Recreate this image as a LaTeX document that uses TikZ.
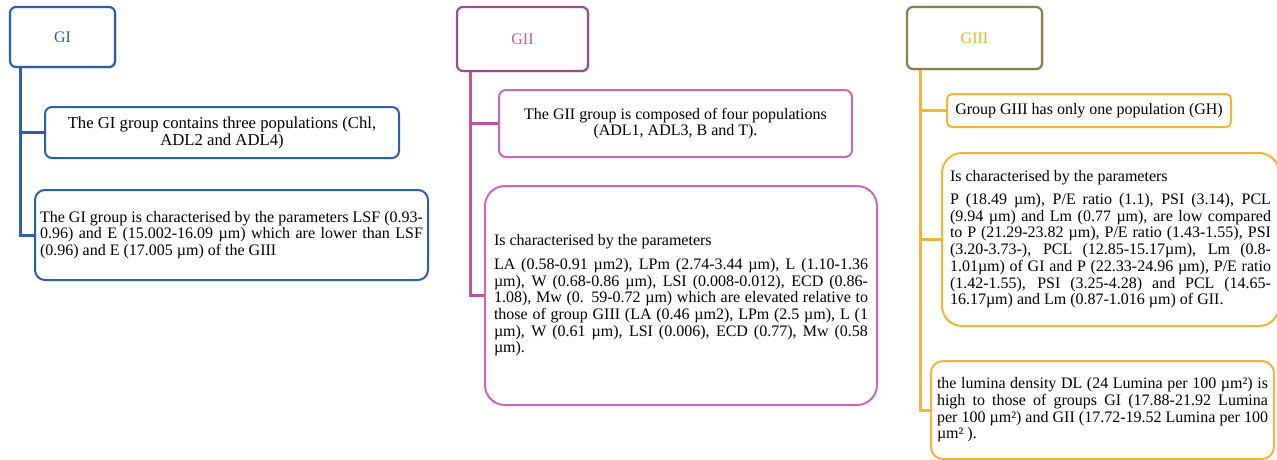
\documentclass[tikz,border=0pt]{standalone}
\usepackage{fontspec}
\setmainfont{Liberation Serif}
\usetikzlibrary{positioning,shadows}
\definecolor{giblue}{HTML}{2E5EAA}
\definecolor{giiline}{HTML}{BC52A8}
\definecolor{giibox}{HTML}{D065B6}
\definecolor{giihead}{HTML}{9A4C94}
\definecolor{giitext}{HTML}{C45A9E}
\definecolor{giiiline}{HTML}{F7B336}
\definecolor{giiihead}{HTML}{8E7B4E}
\definecolor{giiitext}{HTML}{F2B230}

\begin{document}
\begin{tikzpicture}[x=1pt,y=-1pt,
                      font=\fontsize{16}{16.7}\selectfont,
                      hdr/.style={draw, line width=2.2pt, rounded corners=6pt, fill=white,
                        drop shadow={shadow xshift=1.5pt, shadow yshift=-1.5pt, opacity=.3}},
                      box/.style={draw, line width=2pt, inner sep=0pt},
                      conn/.style={line width=3pt}]
                      \useasboundingbox (0,0) rectangle (1277,460);
                      \node[hdr, draw=giblue, text=giblue, minimum width=105pt, minimum height=60pt] (GI) at (62.5,37) {GI};
                      \node[box, draw=giblue, rounded corners=7pt, minimum width=354pt, minimum height=51pt, align=center,
                        font=\fontsize{16.7}{17}\selectfont] (GIa) at (222,132.5)
                      {The GI group contains three populations (Chl,\\ADL2 and ADL4)};
                      \node[box, draw=giblue, rounded corners=10pt, minimum width=393pt, minimum height=90pt, text width=383pt, align=justify] (GIb) at (231.5,235)
                      {The GI group is characterised by the parameters LSF (0.93-\linebreak 0.96) and E (15.002-16.09 µm) which are lower than LSF\linebreak (0.96) and E (17.005 µm) of the GIII};
                      \coordinate (GIroot) at ([xshift=12pt]GI.south west);
                      \node[hdr, draw=giihead, text=giitext, minimum width=131pt, minimum height=64pt] (GII) at (522.5,39) {GII};
                      \node[box, draw=giibox, rounded corners=7pt, minimum width=353pt, minimum height=67pt, align=center] (GIIa) at (675.5,123.5)
                      {The GII group is composed of four populations\\(ADL1, ADL3, B and T).};
                      \node[box, draw=giibox, rounded corners=20pt, minimum width=392pt, minimum height=219pt, text width=374pt, align=justify] (GIIb) at (681,295.5)
                      {Is characterised by the parameters\par\vspace{7pt}LA (0.58-0.91 µm2), LPm (2.74-3.44 µm), L (1.10-1.36\linebreak µm), W (0.68-0.86 µm), LSI (0.008-0.012), ECD (0.86-\linebreak 1.08), Mw (0. 59-0.72 µm) which are elevated relative to\linebreak those of group GIII (LA (0.46 µm2), LPm (2.5 µm), L (1\linebreak µm), W (0.61 µm), LSI (0.006), ECD (0.77), Mw (0.58\linebreak µm).};
                      \coordinate (GIIroot) at ([xshift=15pt]GII.south west);
                      \node[hdr, draw=giiihead, text=giiitext, minimum width=135pt, minimum height=62pt] (GIII) at (974.5,38) {GIII};
                      \node[box, draw=giiiline, rounded corners=5pt, minimum width=284pt, minimum height=33pt] (GIIIa) at (1089,110.5)
                      {Group GIII has only one population (GH)};
                      \node[box, draw=giiiline, rounded corners=20pt, minimum width=337pt, minimum height=173pt, text width=321pt, align=justify] (GIIIb) at (1110.5,239.5)
                      {Is characterised by the parameters\par\vspace{6pt}P (18.49 µm), P/E ratio (1.1), PSI (3.14), PCL\linebreak (9.94 µm) and Lm (0.77 µm), are low compared\linebreak to P (21.29-23.82 µm), P/E ratio (1.43-1.55), PSI\linebreak (3.20-3.73-), PCL (12.85-15.17µm), Lm (0.8-\linebreak 1.01µm) of GI and P (22.33-24.96 µm), P/E ratio\linebreak (1.42-1.55), PSI (3.25-4.28) and PCL (14.65-\linebreak 16.17µm) and Lm (0.87-1.016 µm) of GII.};
                      \node[box, draw=giiiline, rounded corners=12pt, minimum width=343pt, minimum height=98pt, text width=331pt, align=justify] (GIIIc) at (1102.5,410)
                      {the lumina density DL (24 Lumina per 100 µm²) is\linebreak high to those of groups GI (17.88-21.92 Lumina\linebreak per 100 µm²) and GII (17.72-19.52 Lumina per 100\linebreak µm² ).};
                      \coordinate (GIIIroot) at ([xshift=15pt]GIII.south west);
                      \draw[conn, giblue]
                      (GIroot) |- (GIa.west)
                      (GIroot) |- (GIb.west);
                      \draw[conn, giiline]
                      (GIIroot) |- (GIIa.west)
                      (GIIroot) |- (GIIb.west);
                      \draw[conn, giiiline]
                      (GIIIroot) |- (GIIIa.west)
                      (GIIIroot) |- (GIIIb.west)
                      (GIIIroot) |- (GIIIc.west);
                  \end{tikzpicture}
\end{document}
